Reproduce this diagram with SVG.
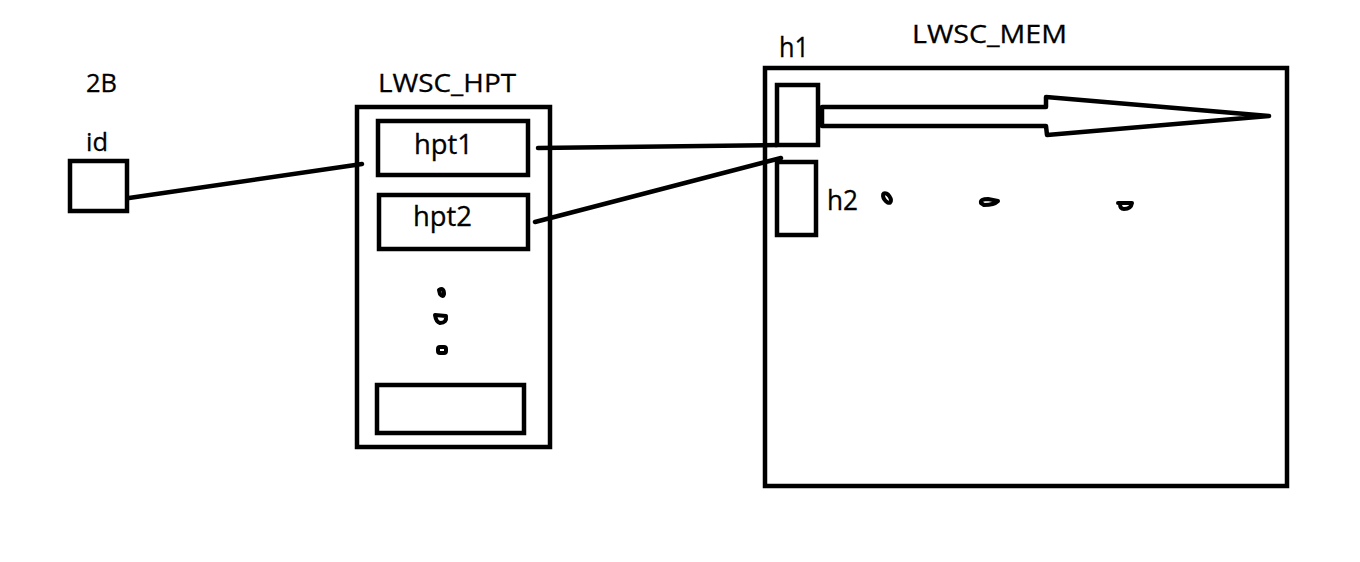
<svg xmlns="http://www.w3.org/2000/svg" width="1360" height="562" viewBox="0 0 1360 562">
<style>
.box{fill:none;stroke:#000;stroke-width:4.5}
.ln{fill:none;stroke:#000;stroke-width:4.5;stroke-linecap:round}
.sc{fill:none;stroke:#000;stroke-width:4;stroke-linecap:round;stroke-linejoin:round}
text{font-family:"Open Sans","Liberation Sans",sans-serif;font-size:26px;fill:#000;stroke:#000;stroke-width:0.3}
.big{font-size:27px}
</style>
<rect width="1360" height="562" fill="#fff"/>
<g id="id-node">
<text x="86" y="92" textLength="31" lengthAdjust="spacingAndGlyphs">2B</text>
<text x="86" y="151" textLength="22" lengthAdjust="spacingAndGlyphs">id</text>
<rect class="box" x="70" y="161" width="57" height="50"/>
</g>
<g id="hpt-node">
<text x="378" y="92" textLength="138" lengthAdjust="spacingAndGlyphs">LWSC_HPT</text>
<rect class="box" x="357" y="107" width="193" height="340"/>
<rect id="hpt1" class="box" x="378" y="121" width="150" height="54"/>
<text class="big" x="414" y="154" textLength="59" lengthAdjust="spacingAndGlyphs">hpt1</text>
<rect id="hpt2" class="box" x="379" y="195" width="149" height="54"/>
<text class="big" x="413" y="226" textLength="59" lengthAdjust="spacingAndGlyphs">hpt2</text>
<rect id="hpt-last" class="box" x="377" y="385" width="147" height="48"/>
<path class="sc" d="M439,290 Q444,287 444,294 Q443,298 440,294 Z"/>
<path class="sc" d="M435,315 L446,316 Q447,323 440,323 Q436,322 435,315 Z"/>
<rect class="sc" x="438" y="347" width="8" height="6" rx="2"/>
</g>
<g id="mem-node">
<text x="912" y="43" textLength="155" lengthAdjust="spacingAndGlyphs">LWSC_MEM</text>
<text class="big" x="779" y="57" textLength="30" lengthAdjust="spacingAndGlyphs">h1</text>
<rect class="box" x="765" y="68" width="522" height="418"/>
<rect id="h1" class="box" x="777" y="85" width="41" height="60"/>
<rect id="h2" class="box" x="777" y="162" width="39" height="73"/>
<text class="big" x="827" y="210" textLength="31" lengthAdjust="spacingAndGlyphs">h2</text>
<polygon class="box" stroke-linejoin="round" points="822,107 1046,107 1046,97 1269,116 1047,135 1046,126 822,126"/>
<ellipse class="sc" cx="887" cy="198" rx="3" ry="5.5" transform="rotate(-35 887 198)"/>
<path class="sc" d="M981,203 Q980,199 988,199 L998,201 Q994,205 984,205 Z"/>
<path class="sc" d="M1118,203 L1132,203 Q1131,209 1124,209 Q1120,209 1120,204"/>
</g>
<g id="connectors">
<line class="ln" x1="129" y1="198" x2="362" y2="164"/>
<line class="ln" x1="538" y1="148" x2="777" y2="145"/>
<line class="ln" x1="535" y1="222" x2="781" y2="158"/>
</g>
</svg>
